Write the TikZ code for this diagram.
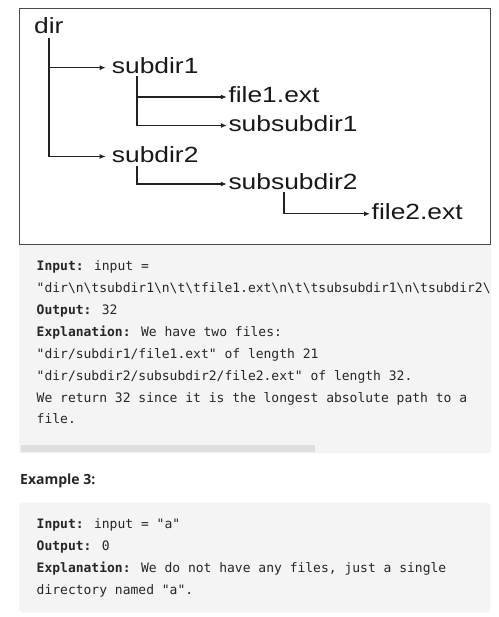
\documentclass[tikz,border=0pt]{standalone}
\usepackage{fontspec}
\setmainfont{Liberation Sans}
\newfontfamily\diagfont[FakeStretch=1.2]{Liberation Sans}
\newfontfamily\codefont{DejaVu Sans Mono}
\newfontfamily\headfont{Open Sans}
\usetikzlibrary{arrows.meta}
\definecolor{codebg}{HTML}{F4F4F4}
\definecolor{scrollc}{HTML}{DEDEDE}
\definecolor{txtc}{HTML}{262626}
\definecolor{boxc}{HTML}{4A4A4A}
\definecolor{linec}{HTML}{222222}
\newcommand{\bsl}{\textbackslash}
\begin{document}
\begin{tikzpicture}[x=1pt,y=-1pt,
  lbl/.style={anchor=base west, inner xsep=1.5pt, inner ysep=0pt,
    font=\diagfont\fontsize{22}{22}\selectfont, text height=11.4pt, text depth=0pt, text=black!90},
  dirlbl/.style={lbl, inner xsep=6pt},
  conn/.style={line width=1.2pt, draw=linec, -{Latex[length=6pt,width=5pt]}},
  codeln/.style={anchor=base west, inner sep=0pt, font=\codefont\fontsize{13}{13}\selectfont, text=txtc},
  codebox/.style={fill=codebg, rounded corners=4pt}]
\useasboundingbox (0,0) rectangle (498,617);
% code block backgrounds
\fill[codebg] (19,240) rectangle (490.7,453.3);
\fill[codebg, rounded corners=4pt] (19,250) rectangle (490.7,453.3);
\fill[scrollc] (21,445) rectangle (315,451.7);
\fill[codebg, rounded corners=4pt] (19,502.7) rectangle (490.7,612.7);
% diagram box
\draw[boxc, line width=1pt, fill=white] (19,9) rectangle (490,244);
% tree labels
\node[lbl] (dir) at (32.5,33.3) {dir};
\node[dirlbl] (subdir1) at (105.7,73.4) {subdir1};
\node[dirlbl] (subdir2) at (105.7,162.2) {subdir2};
\node[lbl] (file1) at (226.8,102.7) {file1.ext};
\node[lbl] (subsub1) at (226.8,131.2) {subsubdir1};
\node[lbl] (subsub2) at (226.8,189.7) {subsubdir2};
\node[lbl] (file2) at (370,219.5) {file2.ext};
\coordinate (t0) at (49,38);
\coordinate (t1) at (137,76);
\coordinate (t2) at (137,166);
\coordinate (t3) at (284,192);
\draw[conn] (t0) |- (subdir1.west);
\draw[conn] (t0) |- (subdir2.west);
\draw[conn] (t1) |- (file1.west);
\draw[conn] (t1) |- (subsub1.west);
\draw[conn] (t2) |- (subsub2.west);
\draw[conn] (t3) |- (file2.west);
% example 2 text
\begin{scope}
\clip (19,244) rectangle (490.7,453.3);
\node[codeln] (l1) at (36.5,270.3) {\textbf{Input:} input =};
\node[codeln] (l2) at (36.5,292.2) {"dir\bsl n\bsl tsubdir1\bsl n\bsl t\bsl tfile1.ext\bsl n\bsl t\bsl tsubsubdir1\bsl n\bsl tsubdir2\bsl n};
\node[codeln] (l3) at (36.5,314.2) {\textbf{Output:} 32};
\node[codeln] (l4) at (36.5,336.1) {\textbf{Explanation:} We have two files:};
\node[codeln] (l5) at (36.5,358.1) {"dir/subdir1/file1.ext" of length 21};
\node[codeln] (l6) at (36.5,380.0) {"dir/subdir2/subsubdir2/file2.ext" of length 32.};
\node[codeln] (l7) at (36.5,402.0) {We return 32 since it is the longest absolute path to a};
\node[codeln] (l8) at (36.5,423.9) {file.};
\end{scope}
% example 3
\node[anchor=base west, inner sep=0pt, font=\headfont\bfseries\fontsize{14}{14}\selectfont, text=txtc] (ex3) at (20,484) {Example 3:};
\node[codeln] (m1) at (36.5,528.3) {\textbf{Input:} input = "a"};
\node[codeln] (m2) at (36.5,550.3) {\textbf{Output:} 0};
\node[codeln] (m3) at (36.5,572.3) {\textbf{Explanation:} We do not have any files, just a single};
\node[codeln] (m4) at (36.5,594.3) {directory named "a".};
\end{tikzpicture}
\end{document}
